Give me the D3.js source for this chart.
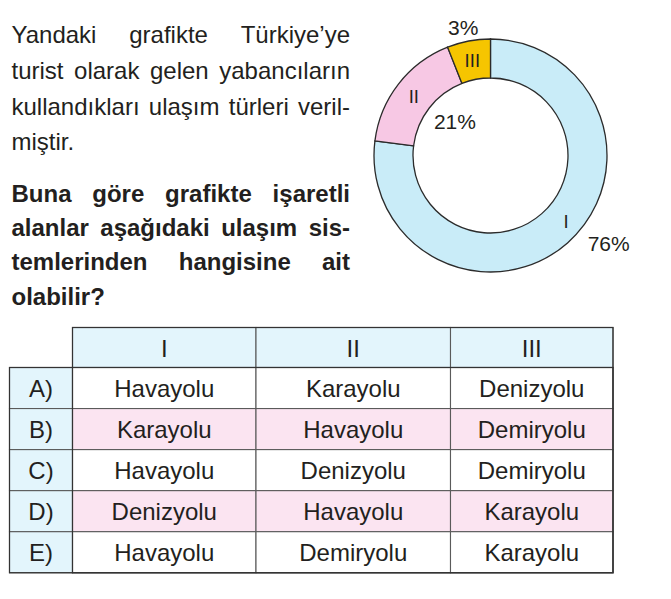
<!DOCTYPE html>
<html>
<head>
<meta charset="utf-8">
<script src="https://cdn.jsdelivr.net/npm/d3@7"></script>
<style>
  body { margin: 0; background: #fff; }
  text { font-family: "Liberation Sans", Arial, sans-serif; fill: #231f20; }
</style>
</head>
<body>
<div id="chart"></div>
<script>
// ---------------------------------------------
// ---------           Data           ----------
// ---------------------------------------------

const sliceNames = ["I", "II", "III"];
const sliceLabels = ["76%", "21%", "3%"];
// arc shares as drawn in the picture
const sliceShares = [77, 17, 6];
const sliceColors = ["#c9ecf8", "#f7c8e4", "#f6c500"];

const introLines = [
  "Yandaki grafikte Türkiye’ye",
  "turist olarak gelen yabancıların",
  "kullandıkları ulaşım türleri veril-",
  "miştir."
];
const questionLines = [
  "Buna göre grafikte işaretli",
  "alanlar aşağıdaki ulaşım sis-",
  "temlerinden hangisine ait",
  "olabilir?"
];

const headers = ["I", "II", "III"];
const options = ["A)", "B)", "C)", "D)", "E)"];
const answers = [
  ["Havayolu", "Karayolu", "Denizyolu"],
  ["Karayolu", "Havayolu", "Demiryolu"],
  ["Havayolu", "Denizyolu", "Demiryolu"],
  ["Denizyolu", "Havayolu", "Karayolu"],
  ["Havayolu", "Demiryolu", "Karayolu"]
];

// ---------------------------------------------
// ---------        Layout            ----------
// ---------------------------------------------

const width = 671, height = 599;
const fontSize = 24;

const svg = d3.select("#chart")
  .append("svg")
    .attr("width", width)
    .attr("height", height);

svg.append("rect").attr("width", width).attr("height", height).attr("fill", "#fff");

// justified paragraph lines
function drawLines(lines, y0, step, weight) {
  const x0 = 11.5, x1 = 350;
  lines.forEach((line, li) => {
    const words = line.split(" ");
    const t = svg.append("text")
      .attr("y", y0 + li * step)
      .attr("font-size", fontSize)
      .attr("font-weight", weight);
    const spans = words.map(w => t.append("tspan").text(w));
    const widths = spans.map(s => s.node().getComputedTextLength());
    const total = d3.sum(widths);
    const last = li === lines.length - 1;
    const gap = last || words.length < 2 ? 6.7 : (x1 - x0 - total) / (words.length - 1);
    let x = x0;
    spans.forEach((s, i) => {
      s.attr("x", x);
      x += widths[i] + gap;
    });
  });
}

drawLines(introLines, 43.3, 35.6, "normal");
drawLines(questionLines, 201.5, 34.4, "bold");

// ---------------------------------------------
// ---------          Donut           ----------
// ---------------------------------------------

const cx = 490.5, cy = 155.5;
const rOuter = 116.5, rInner = 77.5;

const pie = d3.pie().sort(null).value(d => d);
const arcs = pie(sliceShares);
const arc = d3.arc().innerRadius(rInner).outerRadius(rOuter);

const donut = svg.append("g").attr("transform", "translate(" + cx + "," + cy + ")");

donut.selectAll("path")
  .data(arcs)
  .join("path")
    .attr("d", arc)
    .attr("fill", (d, i) => sliceColors[i])
    .attr("stroke", "#2b2b2b")
    .attr("stroke-width", 1.3);

// polar helper (degrees clockwise from 12 o'clock)
function polar(deg, r) {
  const a = deg * Math.PI / 180;
  return [r * Math.sin(a), -r * Math.cos(a)];
}

// roman numerals: I offset in ring, II and III at centroids
const nameSpots = [[131, 100], null, null];
donut.selectAll(".sliceName")
  .data(arcs)
  .join("text")
    .attr("class", "sliceName")
    .attr("text-anchor", "middle")
    .attr("dy", "0.36em")
    .attr("font-size", 18.5)
    .attr("transform", (d, i) => {
      const p = nameSpots[i] ? polar(nameSpots[i][0], nameSpots[i][1]) : arc.centroid(d);
      return "translate(" + p[0] + "," + p[1] + ")";
    })
    .text((d, i) => sliceNames[i]);

// percentage labels
const labelSpots = [[126.5, 147], [-46.5, 49], [-12, 131]];
donut.selectAll(".sliceLabel")
  .data(arcs)
  .join("text")
    .attr("class", "sliceLabel")
    .attr("text-anchor", "middle")
    .attr("dy", "0.36em")
    .attr("font-size", 21)
    .attr("transform", (d, i) => {
      const p = polar(labelSpots[i][0], labelSpots[i][1]);
      return "translate(" + p[0] + "," + p[1] + ")";
    })
    .text((d, i) => sliceLabels[i]);

// ---------------------------------------------
// ---------          Table           ----------
// ---------------------------------------------

const colEdges = [9.5, 72.5, 256, 450.5, 613];
const headTop = 327.5, headBottom = 367.5, rowH = 41.05;

const y = d3.scaleBand()
  .domain(options)
  .range([headBottom, headBottom + rowH * options.length]);

const rowFill = ["#ffffff", "#fbe4f1", "#ffffff", "#fbe4f1", "#ffffff"];
const blue = "#e3f5fc";
const lineColor = "#5a5a5a";

const table = svg.append("g");

// header row
table.selectAll(".headCell")
  .data(headers)
  .join("rect")
    .attr("x", (d, i) => colEdges[i + 1])
    .attr("y", headTop)
    .attr("width", (d, i) => colEdges[i + 2] - colEdges[i + 1])
    .attr("height", headBottom - headTop)
    .attr("fill", blue)
    .attr("stroke", lineColor)
    .attr("stroke-width", 1.1);

table.selectAll(".headText")
  .data(headers)
  .join("text")
    .attr("text-anchor", "middle")
    .attr("font-size", fontSize)
    .attr("x", (d, i) => (colEdges[i + 1] + colEdges[i + 2]) / 2)
    .attr("y", (headTop + headBottom) / 2)
    .attr("dy", "0.38em")
    .text(d => d);

// body rows
options.forEach((opt, r) => {
  const row = table.append("g");
  row.append("rect")
    .attr("x", colEdges[0])
    .attr("y", y(opt))
    .attr("width", colEdges[1] - colEdges[0])
    .attr("height", y.bandwidth())
    .attr("fill", blue)
    .attr("stroke", lineColor)
    .attr("stroke-width", 1.1);
  row.append("text")
    .attr("text-anchor", "middle")
    .attr("font-size", fontSize)
    .attr("x", (colEdges[0] + colEdges[1]) / 2)
    .attr("y", y(opt) + y.bandwidth() / 2)
    .attr("dy", "0.38em")
    .text(opt);

  answers[r].forEach((val, c) => {
    row.append("rect")
      .attr("x", colEdges[c + 1])
      .attr("y", y(opt))
      .attr("width", colEdges[c + 2] - colEdges[c + 1])
      .attr("height", y.bandwidth())
      .attr("fill", rowFill[r])
      .attr("stroke", lineColor)
      .attr("stroke-width", 1.1);
    row.append("text")
      .attr("text-anchor", "middle")
      .attr("font-size", fontSize)
      .attr("x", (colEdges[c + 1] + colEdges[c + 2]) / 2)
      .attr("y", y(opt) + y.bandwidth() / 2)
      .attr("dy", "0.38em")
      .text(val);
  });
});

// darker outer frame
table.append("rect")
  .attr("x", colEdges[1])
  .attr("y", headTop)
  .attr("width", colEdges[4] - colEdges[1])
  .attr("height", y.range()[1] - headTop)
  .attr("fill", "none")
  .attr("stroke", "#333")
  .attr("stroke-width", 1.2);
table.append("rect")
  .attr("x", colEdges[0])
  .attr("y", headBottom)
  .attr("width", colEdges[4] - colEdges[0])
  .attr("height", y.range()[1] - headBottom)
  .attr("fill", "none")
  .attr("stroke", "#333")
  .attr("stroke-width", 1.2);
</script>
</body>
</html>
